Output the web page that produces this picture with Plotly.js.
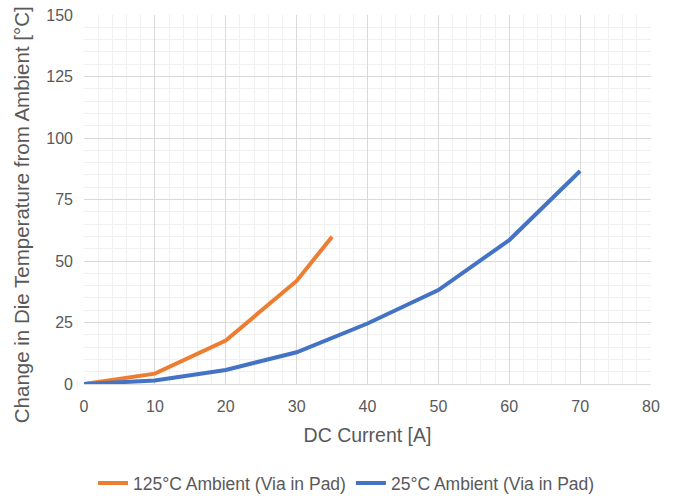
<!DOCTYPE html>
<html><head><meta charset="utf-8">
<script src="https://cdn.plot.ly/plotly-3.0.1.min.js"></script>
<style>html,body{margin:0;padding:0;background:#fff;}</style>
</head><body>
<div id="chart" style="width:677px;height:496px;"></div>
<script>
const currentA = [0, 10, 20, 30, 35];
const rise125 = [0, 4.2, 17.7, 41.9, 59.9];
const currentB = [0, 10, 20, 30, 40, 50, 60, 70];
const rise25 = [0, 1.4, 5.7, 12.9, 24.6, 38.2, 58.5, 86.6];
const seriesNames = ["125°C Ambient (Via in Pad)", "25°C Ambient (Via in Pad)"];
const yTitle = 'Change in Die Temperature from Ambient [°C]';

const traces = [
  {x: currentA, y: rise125, name: seriesNames[0], mode: 'lines', line: {color: '#ED7D31', width: 4}},
  {x: currentB, y: rise25, name: seriesNames[1], mode: 'lines', line: {color: '#4472C4', width: 4}}
];
const font = {family: 'Liberation Sans, Arial, sans-serif', color: '#595959'};
const layout = {
  width: 677, height: 496,
  margin: {l: 84, r: 26, t: 15, b: 112},
  paper_bgcolor: '#fff', plot_bgcolor: '#fff',
  font: font,
  showlegend: true,
  legend: {orientation: 'h', x: 0.463, xanchor: 'center', yref: 'container', y: 0.026, yanchor: 'middle',
           font: {size: 17.5, color: '#595959'}, itemwidth: 30, tracegroupgap: 0},
  xaxis: {
    range: [0, 80], dtick: 10, tick0: 0, automargin: false,
    showgrid: true, gridcolor: '#d9d9d9', gridwidth: 1,
    minor: {dtick: 2, showgrid: true, gridcolor: '#f0f0f0', gridwidth: 1},
    showline: true, linecolor: '#d9d9d9', linewidth: 1, mirror: false,
    zeroline: false, ticks: '', tickfont: {size: 16, color: '#595959'}, ticklabelstandoff: 8,
    title: {text: 'DC Current [A]', font: {size: 19.5, color: '#595959'}, standoff: 14}
  },
  yaxis: {
    range: [0, 150], dtick: 25, tick0: 0, automargin: false,
    showgrid: true, gridcolor: '#d9d9d9', gridwidth: 1,
    minor: {dtick: 5, showgrid: true, gridcolor: '#f0f0f0', gridwidth: 1},
    showline: false, zeroline: false, ticks: '', tickfont: {size: 16, color: '#595959'}, ticklabelstandoff: 10
  },
  annotations: [{
    text: yTitle, textangle: -90, showarrow: false,
    xref: 'paper', yref: 'paper', x: -0.109, y: 0.458, xanchor: 'center', yanchor: 'middle',
    font: {size: 20.5, color: '#595959'}
  }]
};
Plotly.newPlot('chart', traces, layout, {displayModeBar: false, staticPlot: true});
</script>
</body></html>
